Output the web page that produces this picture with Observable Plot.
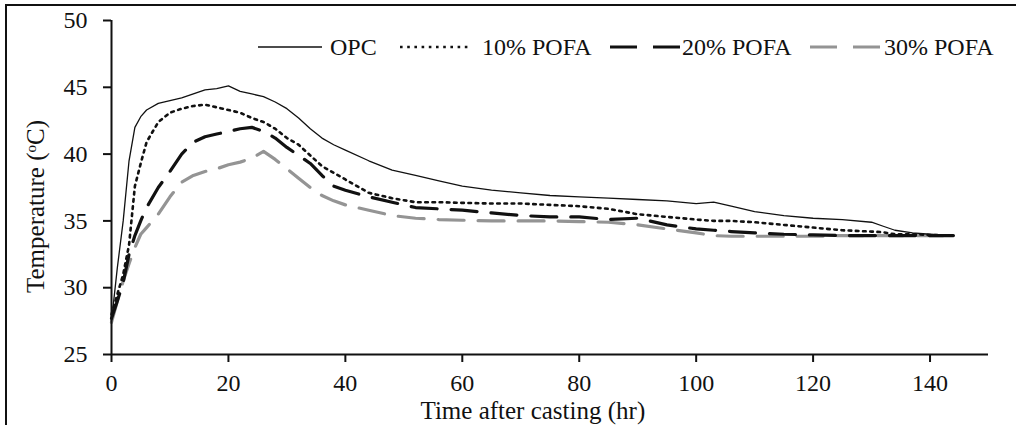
<!DOCTYPE html>
<html>
<head>
<meta charset="utf-8">
<script src="https://cdn.jsdelivr.net/npm/d3@7"></script>
<script src="https://cdn.jsdelivr.net/npm/@observablehq/plot@0.6"></script>
<style>
  html, body { margin: 0; padding: 0; background: #fff; }
  #wrap { position: relative; width: 1016px; height: 425px; overflow: hidden; font-family: "Liberation Serif", "Times New Roman", serif; color: #111; }
  #frame { position: absolute; left: 5px; top: 4px; width: 1020px; height: 430px; border-top: 2px solid #111; border-left: 2px solid #111; pointer-events: none; }
  #chart { position: absolute; left: 0; top: 0; }
  .lbl { position: absolute; white-space: nowrap; font-size: 24px; line-height: 1; }
  .lbl sup { font-size: 0.6em; vertical-align: 0.55em; line-height: 0; }
  .leg { position: absolute; top: 34px; height: 26px; display: flex; align-items: center; font-size: 24px; white-space: nowrap; }
  .leg svg { display: block; }
</style>
</head>
<body>
<div id="wrap">
  <div id="chart"></div>
  <div id="frame"></div>
</div>
<script>
// ---- data ----
const times = [0,1,2,3,4,5,6,8,10,12,14,16,18,20,22,24,26,28,30,32,34,36,38,40,44,48,52,56,60,65,70,75,80,85,90,95,100,103,106,110,115,120,125,130,132,134,137,140,144];
const opc    = [27.5,31.5,35.0,39.5,42.0,42.8,43.3,43.8,44.0,44.2,44.5,44.8,44.9,45.1,44.7,44.5,44.3,43.9,43.4,42.7,41.9,41.2,40.7,40.3,39.5,38.8,38.4,38.0,37.6,37.3,37.1,36.9,36.8,36.7,36.6,36.5,36.3,36.4,36.1,35.7,35.4,35.2,35.1,34.9,34.6,34.3,34.1,34.0,33.9];
const pofa10 = [28.0,29.5,31.0,33.2,37.6,39.3,40.9,42.4,43.1,43.4,43.6,43.7,43.5,43.3,43.1,42.7,42.4,41.9,41.2,40.7,39.9,39.1,38.6,38.1,37.1,36.7,36.4,36.4,36.35,36.3,36.3,36.2,36.1,35.9,35.5,35.3,35.1,35.0,35.0,34.9,34.7,34.5,34.3,34.2,34.15,34.0,34.0,33.95,33.9];
const pofa20 = [27.7,29.0,30.4,32.5,33.9,35.0,36.0,37.5,38.7,40.0,40.9,41.3,41.5,41.7,41.9,42.0,41.7,41.2,40.5,39.9,39.3,38.4,37.6,37.3,36.8,36.4,36.0,35.9,35.8,35.6,35.4,35.3,35.3,35.1,35.2,34.7,34.4,34.3,34.2,34.1,34.0,33.95,33.9,33.9,33.9,33.9,33.9,33.9,33.9];
const pofa30 = [27.4,29.0,30.5,31.8,33.0,34.0,34.5,35.5,36.8,37.9,38.4,38.7,38.9,39.2,39.4,39.7,40.2,39.6,38.9,38.2,37.5,36.9,36.5,36.2,35.8,35.4,35.2,35.1,35.05,35.0,35.0,35.0,34.95,34.9,34.7,34.4,34.1,33.9,33.85,33.85,33.85,33.85,33.9,33.9,33.9,33.9,33.9,33.9,33.9];
const seriesNames = ["OPC", "10% POFA", "20% POFA", "30% POFA"];
const xTicks = [0, 20, 40, 60, 80, 100, 120, 140];
const yTicks = [25, 30, 35, 40, 45, 50];
const xLabel = "Time after casting (hr)";
const yLabelMain = "Temperature (";
const yLabelSup = "o";
const yLabelEnd = "C)";

// ---- styles per series ----
const styles = {
  "OPC":      {stroke: "#111", strokeWidth: 1.3, strokeDasharray: null},
  "10% POFA": {stroke: "#111", strokeWidth: 2.6, strokeDasharray: "2.6 4.6"},
  "20% POFA": {stroke: "#111", strokeWidth: 3.2, strokeDasharray: "26 14"},
  "30% POFA": {stroke: "#949494", strokeWidth: 3.2, strokeDasharray: "26 14"}
};

const valuesBySeries = [opc, pofa10, pofa20, pofa30];
const rows = seriesNames.flatMap((s, k) => times.map((t, i) => ({series: s, t, T: valuesBySeries[k][i]})));

const lineMarks = seriesNames.slice().reverse().map(s => {
  const st = styles[s];
  const o = {x: "t", y: "T", stroke: st.stroke, strokeWidth: st.strokeWidth, strokeLinejoin: "round"};
  if (st.strokeDasharray) o.strokeDasharray = st.strokeDasharray;
  return Plot.line(rows.filter(d => d.series === s), o);
});

const chart = Plot.plot({
  width: 1016,
  height: 425,
  marginLeft: 111,
  marginRight: 28,
  marginTop: 20,
  marginBottom: 71,
  style: {fontFamily: "'Liberation Serif', 'Times New Roman', serif", fontSize: "24px", color: "#111", background: "transparent", overflow: "visible"},
  x: {domain: [0, 150]},
  y: {domain: [25, 50]},
  marks: [
    ...lineMarks,
    Plot.ruleX([0], {stroke: "#111", strokeWidth: 2}),
    Plot.ruleY([25], {stroke: "#111", strokeWidth: 2}),
    Plot.axisX(xTicks, {tickSize: 8, tickPadding: 11, strokeWidth: 2, stroke: "#111", fill: "#111", fontSize: 24, label: null}),
    Plot.axisY(yTicks, {tickSize: 8, tickPadding: 16, strokeWidth: 2, stroke: "#111", fill: "#111", fontSize: 24, label: null})
  ]
});
document.getElementById("chart").appendChild(chart);

const wrap = document.getElementById("wrap");

// x axis title
const xl = document.createElement("div");
xl.className = "lbl";
xl.style.fontSize = "25px";
xl.textContent = xLabel;
wrap.appendChild(xl);
xl.style.left = (533 - xl.offsetWidth / 2) + "px";
xl.style.top = (398) + "px";

// y axis title (rotated)
const yl = document.createElement("div");
yl.className = "lbl";
yl.style.fontSize = "25px";
yl.append(yLabelMain);
const sup = document.createElement("sup");
sup.textContent = yLabelSup;
yl.append(sup);
yl.append(yLabelEnd);
wrap.appendChild(yl);
const w = yl.offsetWidth, h = yl.offsetHeight;
yl.style.left = (35 - w / 2) + "px";
yl.style.top = (206 - h / 2) + "px";
yl.style.transform = "rotate(-90deg)";

// legend
const legendPos = {"OPC": [258, 64], "10% POFA": [400, 70], "20% POFA": [610, 70], "30% POFA": [810, 72]};
seriesNames.forEach(s => {
  const st = styles[s];
  const [x0, len] = legendPos[s];
  const item = document.createElement("div");
  item.className = "leg";
  item.style.left = x0 + "px";
  const ns = "http://www.w3.org/2000/svg";
  const svg = document.createElementNS(ns, "svg");
  svg.setAttribute("width", len);
  svg.setAttribute("height", 10);
  const ln = document.createElementNS(ns, "line");
  ln.setAttribute("x1", 0); ln.setAttribute("x2", len);
  ln.setAttribute("y1", 5); ln.setAttribute("y2", 5);
  ln.setAttribute("stroke", st.stroke);
  ln.setAttribute("stroke-width", st.strokeWidth);
  if (st.strokeDasharray) ln.setAttribute("stroke-dasharray", s === "10% POFA" ? st.strokeDasharray : "27 16");
  svg.appendChild(ln);
  item.appendChild(svg);
  const tx = document.createElement("span");
  tx.textContent = s;
  tx.style.marginLeft = (s === "OPC" ? 8 : s === "10% POFA" ? 12 : 2) + "px";
  item.appendChild(tx);
  wrap.appendChild(item);
});
</script>
</body>
</html>
